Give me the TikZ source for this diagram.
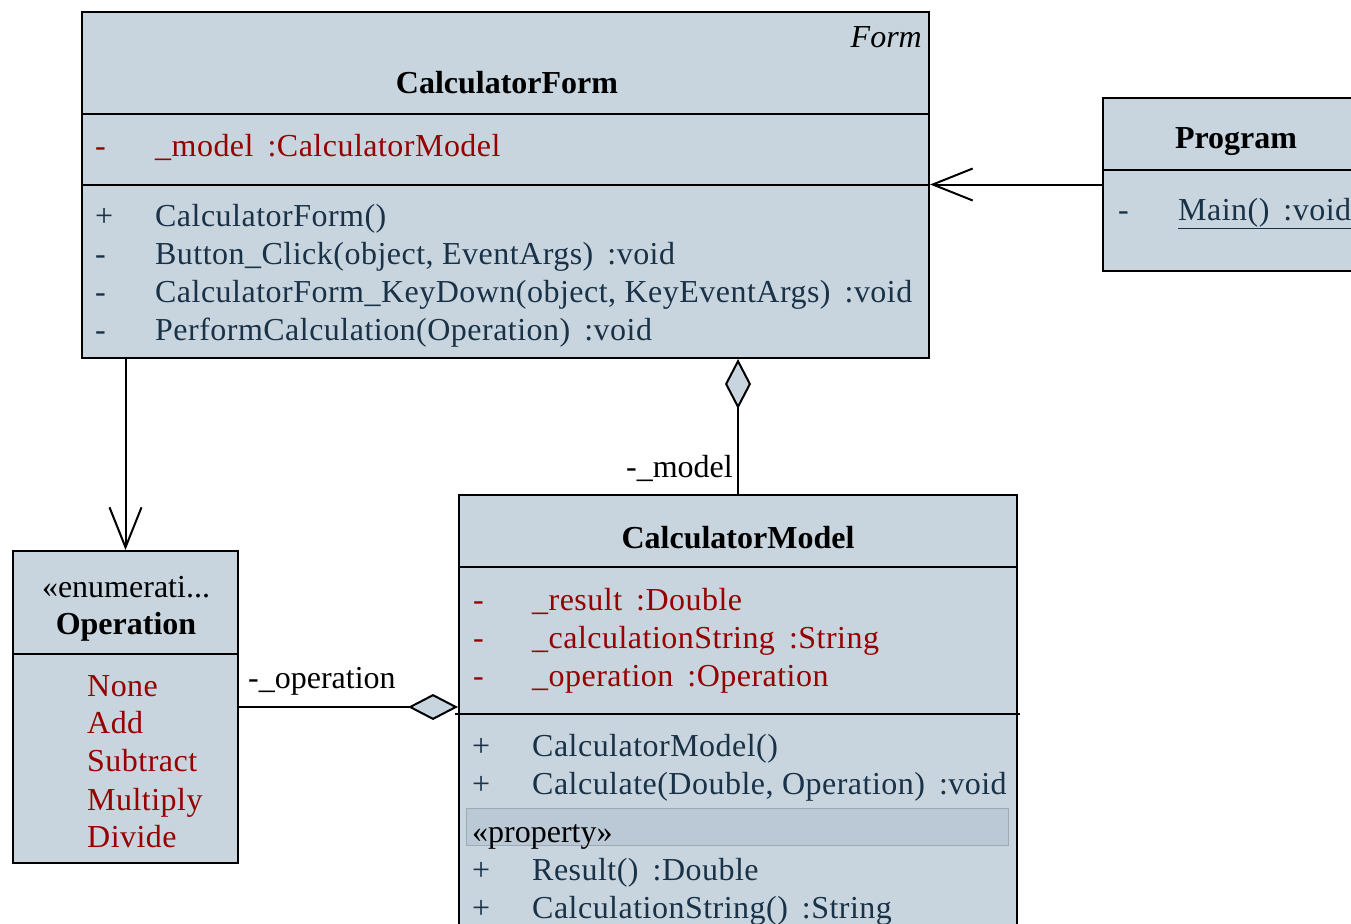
\documentclass[tikz,border=0pt]{standalone}
\usepackage{fontspec}
\setmainfont{Liberation Serif}
\newfontfamily\memfam[LetterSpace=1.5]{Liberation Serif}
\usetikzlibrary{arrows.meta}
\definecolor{umlfill}{RGB}{200,213,222}
\definecolor{umlband}{RGB}{186,201,213}
\definecolor{attrred}{RGB}{150,0,0}
\definecolor{opblue}{RGB}{25,50,72}
\newcommand\memfont{\fontsize{32}{38}\selectfont}
\newcommand\rowfont{\memfam\fontsize{32}{38}\selectfont}
\newcommand\tgap{\hspace{14pt}}

\tikzset{
  classbox/.style={draw, line width=2pt, fill=umlfill, anchor=north west, inner sep=0pt},
  sep/.style={line width=2pt},
  title/.style={anchor=base, inner sep=0pt, font=\memfont\bfseries},
  attr/.style={anchor=base west, inner sep=0pt, font=\rowfont, text=attrred},
  oper/.style={anchor=base west, inner sep=0pt, font=\rowfont, text=opblue},
  lbl/.style={inner sep=0pt, font=\memfont},
  assoc/.style={line width=2pt, -{Straight Barb[length=40pt,width=32pt]}},
  aggr/.style={line width=2pt, -{Diamond[length=50pt,width=26pt,fill=umlfill]}}
}

\begin{document}
\begin{tikzpicture}[x=1pt,y=-1pt]
  \clip (0,0) rectangle (1351,923);
  % CalculatorForm
  \node[classbox, minimum width=847pt, minimum height=346pt] (form) at (81,11) {};
  \draw[sep] (81,114) -- (928,114);
  \draw[sep] (81,185) -- (928,185);
  \node[lbl, anchor=base east, font=\memfont\itshape] (formstereo) at (922,48) {Form};
  \node[title] (formname) at (507,94) {CalculatorForm};
  \node[attr] (fa1v) at (95,156) {-};
  \node[attr] (fa1) at (155,156) {\_model\tgap:CalculatorModel};
  \node[oper] (fm1v) at (95,226) {+};
  \node[oper] (fm1) at (155,226) {CalculatorForm()};
  \node[oper] (fm2v) at (95,264) {-};
  \node[oper] (fm2) at (155,264) {Button\_Click(object, EventArgs)\tgap:void};
  \node[oper] (fm3v) at (95,302) {-};
  \node[oper] (fm3) at (155,302) {CalculatorForm\_KeyDown(object, KeyEventArgs)\tgap:void};
  \node[oper] (fm4v) at (95,340) {-};
  \node[oper] (fm4) at (155,340) {PerformCalculation(Operation)\tgap:void};

  % Program
  \node[classbox, minimum width=260pt, minimum height=173pt] (prog) at (1102,97) {};
  \draw[sep] (1102,170) -- (1362,170);
  \node[title] (progname) at (1236,149) {Program};
  \node[oper] (pm1v) at (1118,220) {-};
  \node[oper] (pm1) at (1178,220) {\underline{Main()\tgap:void}};

  % Operation
  \node[classbox, minimum width=225pt, minimum height=312pt] (op) at (12,550) {};
  \draw[sep] (12,654) -- (237,654);
  \node[lbl, anchor=base] (opstereo) at (126,597) {«enumerati...};
  \node[title] (opname) at (126,634) {Operation};
  \node[attr] (ol1) at (87,696) {None};
  \node[attr] (ol2) at (87,733) {Add};
  \node[attr] (ol3) at (87,771) {Subtract};
  \node[attr] (ol4) at (87,810) {Multiply};
  \node[attr] (ol5) at (87,847) {Divide};

  % CalculatorModel
  \node[classbox, minimum width=558pt, minimum height=460pt] (model) at (458,494) {};
  \draw[sep] (458,567) -- (1016,567);
  \draw[sep] (455,714) -- (1020,714);
  \node[title] (modelname) at (738,548) {CalculatorModel};
  \node[attr] (ma1v) at (473,610) {-};
  \node[attr] (ma1) at (532,610) {\_result\tgap:Double};
  \node[attr] (ma2v) at (473,648) {-};
  \node[attr] (ma2) at (532,648) {\_calculationString\tgap:String};
  \node[attr] (ma3v) at (473,686) {-};
  \node[attr] (ma3) at (532,686) {\_operation\tgap:Operation};
  \node[oper] (mm1v) at (472,756) {+};
  \node[oper] (mm1) at (532,756) {CalculatorModel()};
  \node[oper] (mm2v) at (472,794) {+};
  \node[oper] (mm2) at (532,794) {Calculate(Double, Operation)\tgap:void};
  \draw[fill=umlband, draw=umlband!85!black, line width=1pt] (466,808) rectangle (1008,845);
  \node[lbl, anchor=base west] (mprop) at (472,842) {«property»};
  \node[oper] (mp1v) at (472,880) {+};
  \node[oper] (mp1) at (532,880) {Result()\tgap:Double};
  \node[oper] (mp2v) at (472,918) {+};
  \node[oper] (mp2) at (532,918) {CalculationString()\tgap:String};

  % connectors
  \draw[assoc] (prog.west) -- (form.east |- prog.west);
  \draw[assoc] (form.south -| op.north) -- (op.north);
  \draw[aggr] (model.north) -- (model.north |- form.south);
  \node[lbl, anchor=base east] (modellbl) at (733,477) {-\_model};
  \draw[aggr] (op.east) -- (op.east -| model.west);
  \node[lbl, anchor=base west] (oplbl) at (248,688) {-\_operation};
\end{tikzpicture}
\end{document}
